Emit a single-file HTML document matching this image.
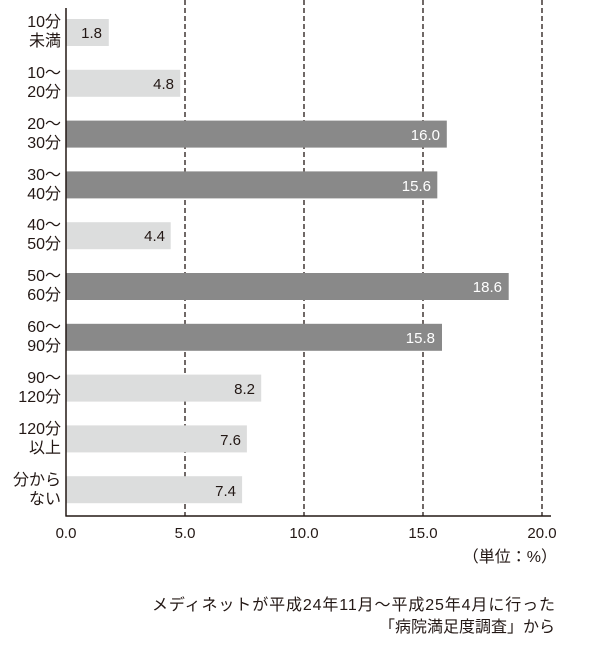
<!DOCTYPE html>
<html><head><meta charset="utf-8"><style>
body{margin:0;background:#fff;width:600px;height:651px;overflow:hidden}
svg text{font-family:"Liberation Sans","Noto Sans CJK JP",sans-serif;fill:#231815}
</style></head><body>
<svg width="600" height="651" viewBox="0 0 600 651">
<g stroke="#231815" stroke-width="1.3" stroke-dasharray="5,3">
<line x1="185" y1="0" x2="185" y2="516"/>
<line x1="304" y1="0" x2="304" y2="516"/>
<line x1="423" y1="0" x2="423" y2="516"/>
<line x1="542" y1="0" x2="542" y2="516"/>
</g>
<g font-size="15">
<rect x="66" y="19" width="42.8" height="27" fill="#dcdddd"/><text x="102" y="38" text-anchor="end">1.8</text>
<rect x="66" y="69.8" width="114.2" height="27" fill="#dcdddd"/><text x="174" y="89" text-anchor="end">4.8</text>
<rect x="66" y="120.6" width="380.8" height="27" fill="#898989"/><text x="440" y="140" text-anchor="end" style="fill:#fff">16.0</text>
<rect x="66" y="171.4" width="371.3" height="27" fill="#898989"/><text x="431" y="191" text-anchor="end" style="fill:#fff">15.6</text>
<rect x="66" y="222.2" width="104.7" height="27" fill="#dcdddd"/><text x="165" y="241" text-anchor="end">4.4</text>
<rect x="66" y="273" width="442.7" height="27" fill="#898989"/><text x="502" y="292" text-anchor="end" style="fill:#fff">18.6</text>
<rect x="66" y="323.8" width="376" height="27" fill="#898989"/><text x="435" y="343" text-anchor="end" style="fill:#fff">15.8</text>
<rect x="66" y="374.6" width="195.2" height="27" fill="#dcdddd"/><text x="255" y="394" text-anchor="end">8.2</text>
<rect x="66" y="425.4" width="180.9" height="27" fill="#dcdddd"/><text x="241" y="445" text-anchor="end">7.6</text>
<rect x="66" y="476.2" width="176.1" height="27" fill="#dcdddd"/><text x="236" y="496" text-anchor="end">7.4</text>
</g>
<g font-size="16" text-anchor="end">
<text x="61" y="27">10分</text><text x="61" y="46">未満</text>
<text x="61" y="78">10～</text><text x="61" y="97">20分</text>
<text x="61" y="129">20～</text><text x="61" y="148">30分</text>
<text x="61" y="180">30～</text><text x="61" y="199">40分</text>
<text x="61" y="230">40～</text><text x="61" y="249">50分</text>
<text x="61" y="281">50～</text><text x="61" y="300">60分</text>
<text x="61" y="332">60～</text><text x="61" y="351">90分</text>
<text x="61" y="383">90～</text><text x="61" y="402">120分</text>
<text x="61" y="434">120分</text><text x="61" y="453">以上</text>
<text x="61" y="485">分から</text><text x="61" y="504">ない</text>
</g>
<line x1="66" y1="8" x2="66" y2="516.5" stroke="#231815" stroke-width="1.5"/>
<line x1="65.5" y1="516" x2="551" y2="516" stroke="#231815" stroke-width="1.5"/>
<g font-size="15" text-anchor="middle">
<text x="66" y="538">0.0</text><text x="185" y="538">5.0</text><text x="304" y="538">10.0</text><text x="423" y="538">15.0</text><text x="542" y="538">20.0</text>
</g>
<g font-size="16" text-anchor="end">
<text x="557" y="562">（単位：%）</text>
<text textLength="403" x="555" y="610">メディネットが平成24年11月～平成25年4月に行った</text>
<text x="555" y="632">「病院満足度調査」から</text>
</g>
</svg>
</body></html>
